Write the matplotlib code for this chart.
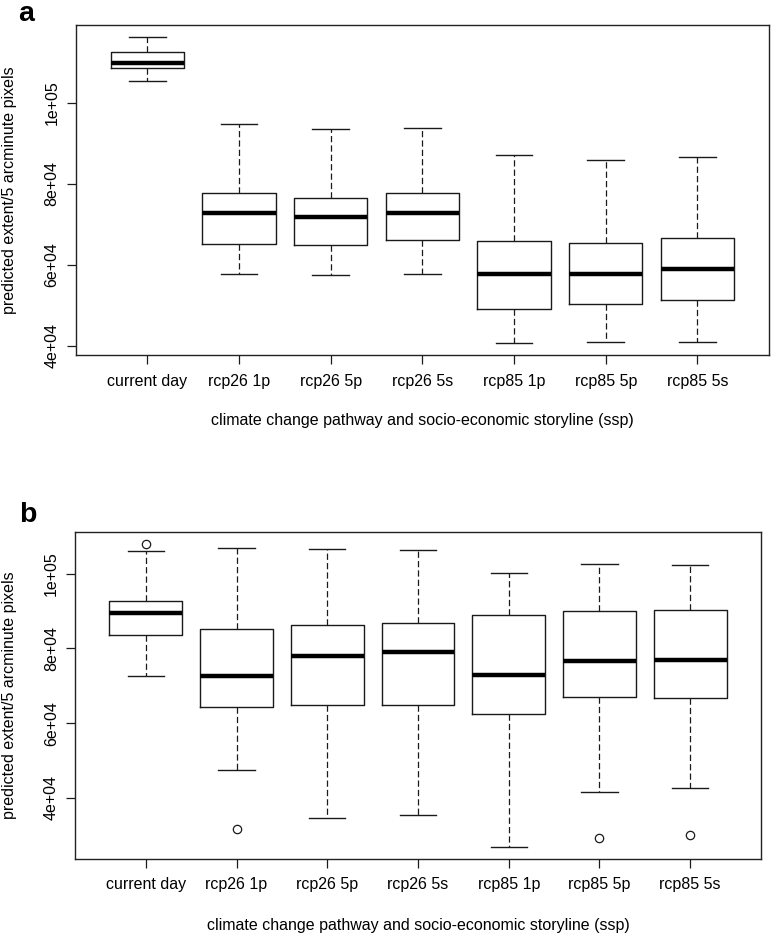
import numpy as np
import matplotlib
matplotlib.use("Agg")
import matplotlib.pyplot as plt

plt.rcParams['font.family'] = ['Liberation Sans', 'DejaVu Sans']

labels = ['current day', 'rcp26 1p', 'rcp26 5p', 'rcp26 5s', 'rcp85 1p', 'rcp85 5p', 'rcp85 5s']

# panel a: lower whisker, Q1, median, Q3, upper whisker
a_lo  = [105300, 57600, 57400, 57700, 40700, 40900, 40800]
a_q1  = [108650, 65000, 64800, 66200, 49100, 50300, 51200]
a_med = [109900, 72800, 71750, 72800, 57800, 57600, 58900]
a_q3  = [112600, 77600, 76400, 77750, 65900, 65400, 66600]
a_hi  = [116170, 94800, 93500, 93800, 87100, 85900, 86500]
a_out = [[], [], [], [], [], [], []]

# panel b
b_lo  = [72700, 47600, 34600, 35400, 27000, 41700, 42600]
b_q1  = [83650, 64250, 64800, 64800, 62500, 67100, 66850]
b_med = [89400, 72600, 78050, 79000, 72900, 76600, 76900]
b_q3  = [92700, 85150, 86300, 86650, 88800, 89900, 90300]
b_hi  = [105950, 106850, 106500, 106200, 100200, 102600, 102200]
b_out = [[107800], [31650], [], [], [], [29400], [30200]]

LC = '#1a1a1a'


def r_boxplot(ax, lo, q1, med, q3, hi, out):
    stats = []
    for i in range(len(labels)):
        stats.append(dict(whislo=lo[i], q1=q1[i], med=med[i], q3=q3[i],
                          whishi=hi[i], fliers=out[i]))
    ax.bxp(stats, positions=np.arange(1, 8), widths=0.8, showfliers=True,
           boxprops=dict(color=LC, linewidth=1.0),
           medianprops=dict(color='black', linewidth=3.2, solid_capstyle='butt'),
           whiskerprops=dict(color=LC, linewidth=0.9, linestyle=(0, (5, 2.5))),
           capprops=dict(color=LC, linewidth=1.0),
           capwidths=0.4,
           flierprops=dict(marker='o', markerfacecolor='none', markeredgecolor=LC,
                           markersize=6, markeredgewidth=0.9))
    allv = lo + hi + [v for o in out for v in o]
    lo_v, hi_v = min(allv), max(allv)
    span = hi_v - lo_v
    ax.set_ylim(lo_v - 0.04 * span, hi_v + 0.04 * span)
    ax.set_xlim(0.5 - 0.04 * 7, 7.5 + 0.04 * 7)
    ax.set_xticks(np.arange(1, 8))
    ax.set_xticklabels(labels)
    ax.set_yticks([40000, 60000, 80000, 100000])
    ax.set_yticklabels(['4e+04', '6e+04', '8e+04', '1e+05'], rotation=90, va='center')
    ax.tick_params(length=6.5, width=0.9, labelsize=11.5, pad=5, color=LC)
    ax.tick_params(axis='x', pad=7)
    for s in ax.spines.values():
        s.set_linewidth(1.0)
        s.set_color('#222222')


fig = plt.figure(figsize=(7.72, 9.38), dpi=100)
W, H = 772.0, 938.0

ax1 = fig.add_axes([75.7 / W, 1 - 355 / H, (769 - 75.7) / W, 330 / H])
r_boxplot(ax1, a_lo, a_q1, a_med, a_q3, a_hi, a_out)
ax1.set_xlabel('climate change pathway and socio-economic storyline (ssp)', fontsize=11.5, va='center')
ax1.xaxis.set_label_coords(0.5, -65 / 330)
ax1.set_ylabel('predicted extent/5 arcminute pixels', fontsize=11.5, va='center')
ax1.yaxis.set_label_coords(-66 / 693, 0.5)

ax2 = fig.add_axes([75.0 / W, 1 - 858.7 / H, (761 - 75.0) / W, 326.4 / H])
r_boxplot(ax2, b_lo, b_q1, b_med, b_q3, b_hi, b_out)
ax2.set_xlabel('climate change pathway and socio-economic storyline (ssp)', fontsize=11.5, va='center')
ax2.xaxis.set_label_coords(0.5, -67 / 326.4)
ax2.set_ylabel('predicted extent/5 arcminute pixels', fontsize=11.5, va='center')
ax2.yaxis.set_label_coords(-65 / 686, 0.5)

# panel letters, placed on their baselines
fig.text(26 / W, 1 - 21 / H, 'a', fontsize=20.5, fontweight='bold', ha='center', va='baseline')
fig.text(27.5 / W, 1 - 521.5 / H, 'b', fontsize=20.5, fontweight='bold', ha='center', va='baseline')

fig.savefig('out.png', dpi=100)
